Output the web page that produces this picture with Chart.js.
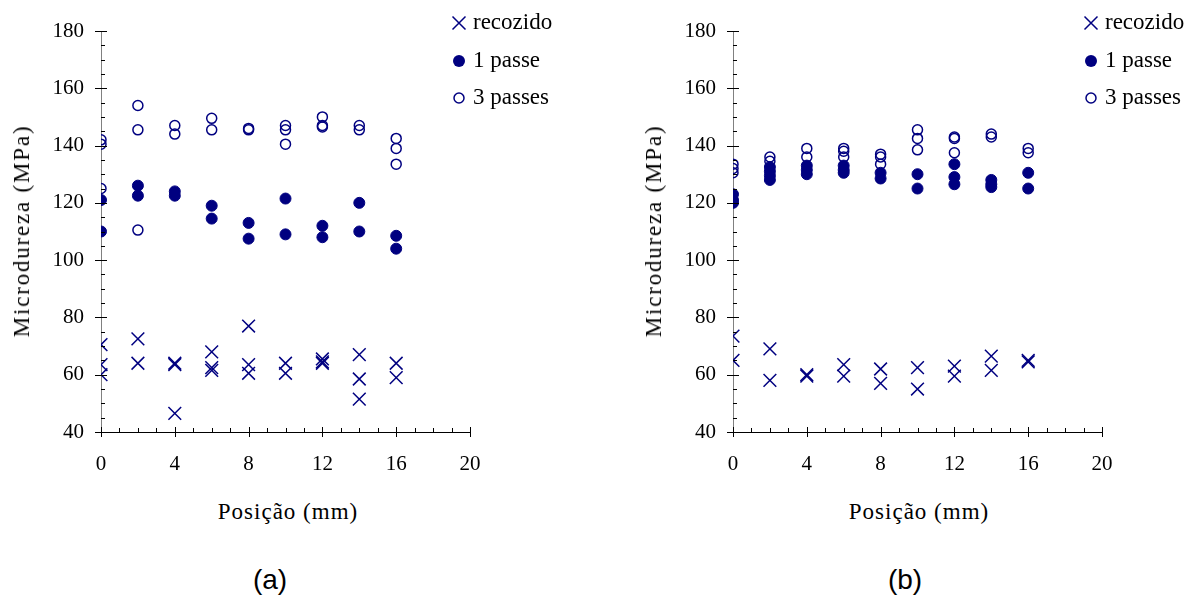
<!DOCTYPE html>
<html lang="pt">
<head>
<meta charset="utf-8">
<title>Microdureza</title>
<script src="https://cdn.jsdelivr.net/npm/chart.js@4.4.0/dist/chart.umd.min.js"></script>
<style>
    body { margin: 0; background: #fff; width: 1191px; height: 598px; position: relative; overflow: hidden; }
    .painel { position: absolute; top: 0; }
    .texto { position: absolute; white-space: nowrap; color: #000; font-family: 'Liberation Serif', 'Times New Roman', serif; }
    .titulo-y { font-size: 23px; letter-spacing: 1.8px; transform: translate(-50%, -50%) rotate(-90deg); }
    .titulo-x { font-size: 23px; letter-spacing: 1px; transform: translate(-50%, -50%); }
    .legenda-fig { font-family: 'Liberation Sans', Arial, sans-serif; font-size: 28px; transform: translate(-50%, -50%); }
</style>
</head>
<body>
<canvas id="graficoA" class="painel" width="595" height="480" style="left:0px"></canvas>
<canvas id="graficoB" class="painel" width="595" height="480" style="left:632px"></canvas>

<div class="texto titulo-y" style="left:22px; top:231px">Microdureza (MPa)</div>
<div class="texto titulo-y" style="left:654px; top:231px">Microdureza (MPa)</div>
<div class="texto titulo-x" style="left:288px; top:512px">Posição (mm)</div>
<div class="texto titulo-x" style="left:919px; top:512px">Posição (mm)</div>
<div class="texto legenda-fig" style="left:270px; top:580px">(a)</div>
<div class="texto legenda-fig" style="left:905px; top:580px">(b)</div>

<script>
// Eixos
const ticksX = [0, 4, 8, 12, 16, 20];
const ticksY = [40, 60, 80, 100, 120, 140, 160, 180];
const nomesSeries = ['recozido', '1 passe', '3 passes'];

// (a) recozido
const recozidoA_x = [0, 0, 0, 2, 2, 4, 4, 4, 6, 6, 6, 8, 8, 8, 10, 10, 12, 12, 12, 14, 14, 14, 16, 16];
const recozidoA_y = [70.5, 63.5, 60, 72.5, 64, 64, 63.5, 46.5, 68, 62.5, 61.5, 77, 63.5, 60.5, 64, 60.5, 65.5, 64.5, 64, 67, 58.5, 51.5, 64, 59];
// (a) 1 passe
const umPasseA_x = [0, 0, 2, 2, 4, 4, 6, 6, 8, 8, 10, 10, 12, 12, 14, 14, 16, 16];
const umPasseA_y = [121, 110, 126, 122.5, 124, 122.5, 119, 114.5, 113, 107.5, 121.5, 109, 112, 108, 120, 110, 108.5, 104];
// (a) 3 passes
const tresPassesA_x = [0, 0, 0, 2, 2, 2, 4, 4, 6, 6, 8, 8, 10, 10, 10, 12, 12, 12, 14, 14, 16, 16, 16];
const tresPassesA_y = [142, 140.5, 125, 154, 145.5, 110.5, 147, 144, 149.5, 145.5, 146, 145.5, 147, 145.5, 140.5, 150, 147, 146.5, 147, 145.5, 142.5, 139, 133.5];

// (b) recozido
const recozidoB_x = [0, 0, 2, 2, 4, 4, 6, 6, 8, 8, 10, 10, 12, 12, 14, 14, 16, 16];
const recozidoB_y = [73.5, 65, 69, 58, 60, 59.5, 63.5, 59.5, 62, 57, 62.5, 55, 63, 59.5, 66.5, 61.5, 65, 64.5];
// (b) 1 passe
const umPasseB_x = [0, 0, 0, 2, 2, 2, 2, 4, 4, 4, 6, 6, 6, 8, 8, 10, 10, 12, 12, 12, 14, 14, 14, 16, 16];
const umPasseB_y = [123, 121, 120, 132.5, 131, 129.5, 128, 133, 131.5, 130, 133, 131.5, 130.5, 130.5, 128.5, 130, 125, 133.5, 129, 126.5, 128, 126.5, 125.5, 130.5, 125];
// (b) 3 passes
const tresPassesB_x = [0, 0, 0, 2, 2, 4, 4, 6, 6, 6, 8, 8, 8, 10, 10, 10, 12, 12, 12, 14, 14, 16, 16];
const tresPassesB_y = [133.5, 132, 130.5, 136, 134.5, 139, 136, 139, 138, 136, 137, 136, 133.5, 145.5, 142.5, 138.5, 143, 142.5, 137.5, 144, 143, 139, 137.5];

const azul = '#000080';
const fonteSerif = "'Liberation Serif', 'Times New Roman', serif";

function pontos(xs, ys) {
    return xs.map(function(x, i) { return { x: x, y: ys[i] }; });
}

// Marcas de escala: principais cruzam o eixo, secundárias só para dentro
const marcasPlugin = {
    id: 'marcas',
    afterDraw: function(chart) {
        const ctx = chart.ctx;
        const sx = chart.scales.x;
        const sy = chart.scales.y;
        const baseY = sy.getPixelForValue(sy.min);
        const baseX = sx.getPixelForValue(sx.min);
        ctx.save();
        ctx.strokeStyle = '#000';
        ctx.lineWidth = 1;
        ctx.beginPath();
        for (let v = sx.min; v <= sx.max; v += 1) {
            const px = Math.round(sx.getPixelForValue(v)) + 0.5;
            if (v % 4 === 0) {
                ctx.moveTo(px, baseY - 5);
                ctx.lineTo(px, baseY + 5);
            } else {
                ctx.moveTo(px, baseY - 4);
                ctx.lineTo(px, baseY);
            }
        }
        for (let v = sy.min; v <= sy.max; v += 5) {
            const py = Math.round(sy.getPixelForValue(v)) + 0.5;
            if (v % 20 === 0) {
                ctx.moveTo(baseX - 6, py);
                ctx.lineTo(baseX + 6, py);
            } else {
                ctx.moveTo(baseX, py);
                ctx.lineTo(baseX + 4, py);
            }
        }
        ctx.stroke();
        ctx.restore();
    }
};

// Legenda desenhada ao lado direito da área do gráfico
const legendaPlugin = {
    id: 'legendaLateral',
    afterDraw: function(chart) {
        const ctx = chart.ctx;
        const mx = chart.chartArea.right - 11;
        const linhas = [23, 61, 98];
        ctx.save();
        ctx.strokeStyle = azul;
        ctx.fillStyle = azul;
        // recozido
        ctx.lineWidth = 1.5;
        ctx.beginPath();
        ctx.moveTo(mx - 6.5, linhas[0] - 6.5);
        ctx.lineTo(mx + 6.5, linhas[0] + 6.5);
        ctx.moveTo(mx + 6.5, linhas[0] - 6.5);
        ctx.lineTo(mx - 6.5, linhas[0] + 6.5);
        ctx.stroke();
        // 1 passe
        ctx.beginPath();
        ctx.arc(mx, linhas[1], 6, 0, Math.PI * 2);
        ctx.fill();
        // 3 passes
        ctx.beginPath();
        ctx.arc(mx, linhas[2], 5, 0, Math.PI * 2);
        ctx.stroke();

        ctx.fillStyle = '#000';
        ctx.font = '23px ' + fonteSerif;
        ctx.textBaseline = 'middle';
        ctx.textAlign = 'left';
        nomesSeries.forEach(function(nome, i) {
            ctx.fillText(nome, mx + 14, linhas[i]);
        });
        ctx.restore();
    }
};

function criarGrafico(id, recozido, umPasse, tresPasses) {
    const ctx = document.getElementById(id).getContext('2d');
    return new Chart(ctx, {
        type: 'scatter',
        data: {
            datasets: [{
                label: nomesSeries[0],
                data: recozido,
                pointStyle: 'crossRot',
                pointRadius: 9,
                borderWidth: 1.5,
                pointBorderWidth: 1.5,
                borderColor: azul,
                backgroundColor: azul
            }, {
                label: nomesSeries[1],
                data: umPasse,
                pointStyle: 'circle',
                pointRadius: 5.5,
                pointBorderWidth: 1,
                borderColor: azul,
                backgroundColor: azul
            }, {
                label: nomesSeries[2],
                data: tresPasses,
                pointStyle: 'circle',
                pointRadius: 5,
                pointBorderWidth: 1.5,
                borderColor: azul,
                backgroundColor: 'rgba(0,0,0,0)'
            }]
        },
        options: {
            responsive: false,
            animation: false,
            events: [],
            layout: { padding: { top: 31, right: 125, bottom: 0, left: 0 } },
            plugins: {
                legend: { display: false },
                tooltip: { enabled: false }
            },
            scales: {
                x: {
                    type: 'linear',
                    min: ticksX[0],
                    max: ticksX[ticksX.length - 1],
                    afterBuildTicks: function(scale) {
                        scale.ticks = ticksX.map(function(v) { return { value: v }; });
                    },
                    afterFit: function(scale) { scale.height = 48; },
                    grid: { display: false, drawTicks: false },
                    border: { display: true, color: '#000', width: 1 },
                    ticks: {
                        color: '#000',
                        padding: 20,
                        maxRotation: 0,
                        font: { family: fonteSerif, size: 21 }
                    }
                },
                y: {
                    type: 'linear',
                    min: ticksY[0],
                    max: ticksY[ticksY.length - 1],
                    afterBuildTicks: function(scale) {
                        scale.ticks = ticksY.map(function(v) { return { value: v }; });
                    },
                    afterFit: function(scale) { scale.width = 101; },
                    grid: { display: false, drawTicks: false },
                    border: { display: true, color: '#808080', width: 1 },
                    ticks: {
                        color: '#000',
                        padding: 17,
                        font: { family: fonteSerif, size: 21 }
                    }
                }
            }
        },
        plugins: [marcasPlugin, legendaPlugin]
    });
}

criarGrafico('graficoA', pontos(recozidoA_x, recozidoA_y), pontos(umPasseA_x, umPasseA_y), pontos(tresPassesA_x, tresPassesA_y));
criarGrafico('graficoB', pontos(recozidoB_x, recozidoB_y), pontos(umPasseB_x, umPasseB_y), pontos(tresPassesB_x, tresPassesB_y));
</script>
</body>
</html>
